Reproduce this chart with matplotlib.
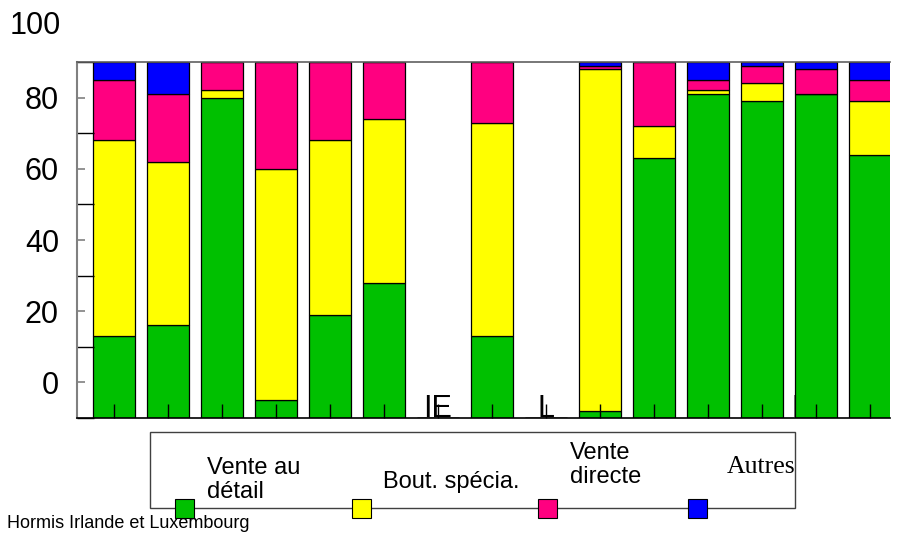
import matplotlib
matplotlib.use('Agg')
from matplotlib import pyplot as plt
from matplotlib.patches import Rectangle
import numpy as np

plt.rcParams['font.family'] = ['Liberation Sans', 'DejaVu Sans']

countries = ['B', 'DK', 'D', 'EL', 'E', 'F', 'IE', 'I', 'L', 'NL', 'GB', 'A', 'P', 'FIN', 'S']
# parts de marche (%) par canal de distribution
vente_detail = [23, 26, 90, 5, 29, 38, 0, 23, 0, 2, 73, 91, 89, 91, 74]
bout_specia  = [55, 46, 2, 65, 49, 46, 0, 60, 0, 96, 9, 1, 5, 0, 15]
vente_direct = [17, 19, 8, 30, 22, 16, 0, 17, 0, 1, 18, 3, 5, 7, 6]
autres       = [5, 9, 0, 0, 0, 0, 0, 0, 0, 1, 0, 5, 1, 2, 5]

series = [vente_detail, bout_specia, vente_direct, autres]
names = ['Vente au\ndétail', 'Bout. spécia.', 'Vente\ndirecte', 'Autres']
colors = ['#00C000', '#FFFF00', '#FF0080', '#0000FF']

W, H = 897, 534
fig = plt.figure(figsize=(W / 100, H / 100), dpi=100)
ax = fig.add_axes([77 / W, 1 - 418 / H, (890 - 77) / W, (418 - 62) / H])

x = np.arange(len(countries))
bottom = np.zeros(len(countries))
for vals, c in zip(series, colors):
    vals = np.array(vals, dtype=float)
    ax.bar(x, vals, 0.76, bottom=bottom, color=c, edgecolor='black',
           linewidth=0.9, zorder=1)
    bottom += vals

# country codes sit behind the bars
for xi, name in zip(x, countries):
    ax.text(xi, 0.3, name, ha='center', va='baseline', fontsize=22,
            zorder=0.5, clip_on=True)

ax.set_xlim(-0.685, 14.37)
ax.set_ylim(0, 100)

ax.set_xticks(x)
ax.set_xticklabels([])
ax.tick_params(axis='x', direction='in', length=10, width=1, color='black')

ax.set_yticks([0, 20, 40, 60, 80, 100])
ax.set_yticklabels([])
ax.tick_params(axis='y', which='major', direction='in', length=12, width=1, color='black')
ax.set_yticks([10, 30, 50, 70, 90], minor=True)
ax.set_yticklabels(['0', '20', '40', '60', '80'], minor=True)
ax.tick_params(axis='y', which='minor', direction='in', length=6, width=1.2,
               color='#808080', labelsize=22, pad=13)
ax.text(-0.02, 110, '100', transform=ax.get_yaxis_transform(), ha='right',
        va='center', fontsize=22, clip_on=False)

ax.spines['right'].set_visible(False)
ax.spines['left'].set_color('#808080')
ax.spines['left'].set_linewidth(1.5)
ax.spines['top'].set_color('#606060')
ax.spines['top'].set_linewidth(1.2)
ax.spines['bottom'].set_color('black')
ax.spines['bottom'].set_linewidth(1.2)

# legend box drawn by hand
def fx(px):
    return px / W

def fy(py):
    return 1 - py / H

fig.patches.append(Rectangle((fx(150), fy(508)), fx(795) - fx(150), fy(432) - fy(508),
                             transform=fig.transFigure, fill=False,
                             edgecolor='#404040', linewidth=1))

fig.text(fx(7), fy(524), 'Hormis Irlande et Luxembourg', fontsize=13,
         ha='left', va='center')

sq_x = [184, 361, 547, 697]
txt_x = [207, 383, 570, 727]
txt_y = [480, 482, 465, 467]
for sx, tx, ty, name, c in zip(sq_x, txt_x, txt_y, names, colors):
    fig.patches.append(Rectangle((fx(sx - 9.5), fy(517.5)), 19 / W, 19 / H,
                                 transform=fig.transFigure, facecolor=c,
                                 edgecolor='black', linewidth=0.8, zorder=5))
    if name == 'Autres':
        fig.text(fx(tx), fy(ty), name, fontsize=18.5, family='Liberation Serif',
                 ha='left', va='center')
    else:
        fig.text(fx(tx), fy(ty), name, fontsize=17, ha='left', va='center',
                 linespacing=1.15)

fig.savefig('out.png', dpi=100)
